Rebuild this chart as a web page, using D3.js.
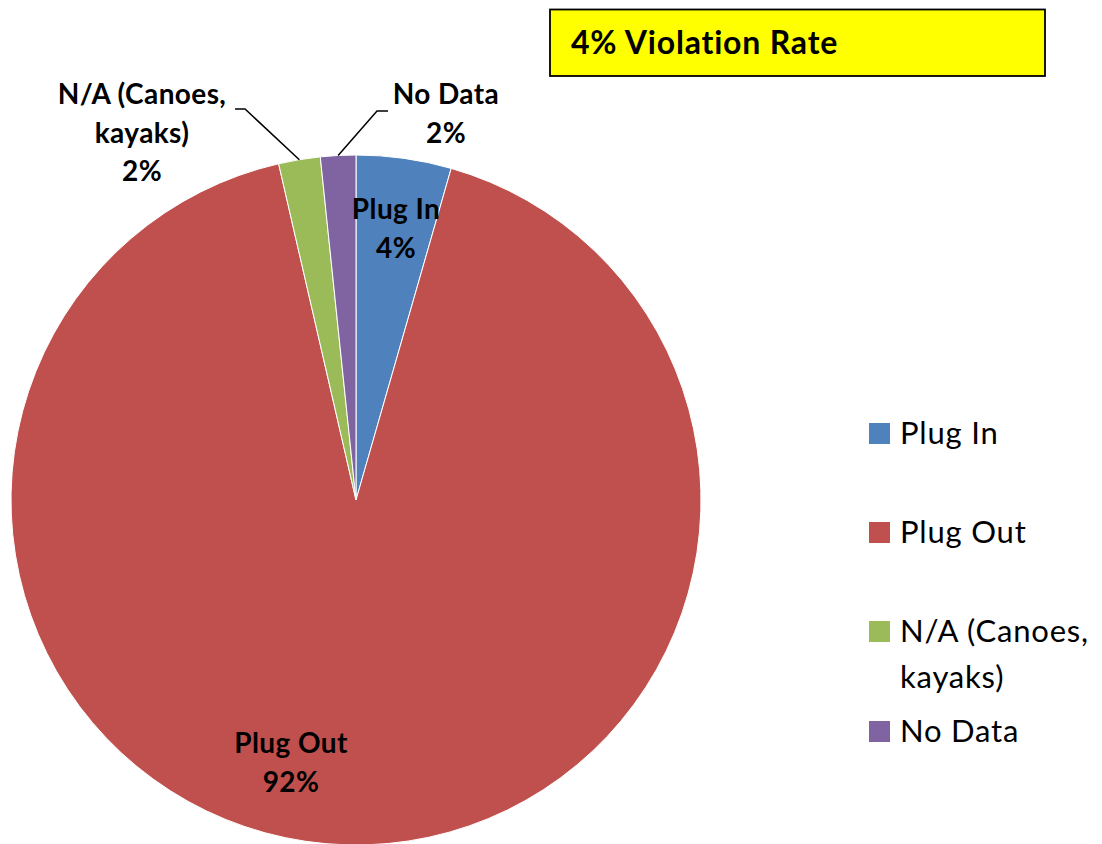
<!DOCTYPE html>
<html>
<head>
<meta charset="utf-8">
<script src="https://cdn.jsdelivr.net/npm/d3@7"></script>
<style>
  body { margin: 0; background: #fff; }
  svg { display: block; font-family: Lato, "Open Sans", sans-serif; }
</style>
</head>
<body>
<svg width="1102" height="844"></svg>
<script>
// slice data, clockwise from 12 o'clock
const categories = ["Plug In", "Plug Out", "N/A (Canoes, kayaks)", "No Data"];
const values = [4.45, 91.95, 1.95, 1.65];
const colors = ["#4F81BD", "#C0504D", "#9BBB59", "#8064A2"];
const legendLines = [["Plug In"], ["Plug Out"], ["N/A (Canoes,", "kayaks)"], ["No Data"]];
const labelLines = [["Plug In"], ["Plug Out"], ["N/A (Canoes,", "kayaks)"], ["No Data"]];
const title = "4% Violation Rate";

const svg = d3.select("svg");
const cx = 356, cy = 500, r = 345;

const total = d3.sum(values);
const pct = d3.format(".0%");

const pie = d3.pie().sort(null).value(d => d.v);
const arcs = pie(values.map((v, i) => ({ v: v, i: i })));
const arc = d3.arc().innerRadius(0).outerRadius(r);

const g = svg.append("g").attr("transform", `translate(${cx},${cy})`);

g.selectAll("path.slice")
  .data(arcs)
  .enter().append("path")
  .attr("class", "slice")
  .attr("d", arc)
  .attr("fill", d => colors[d.data.i])
  .attr("stroke", "#fff")
  .attr("stroke-width", 1);

// label placement (x, y of first baseline, relative to pie centre)
const labelPos = [
  { x: 40, y: -281 },
  { x: -65, y: 253 },
  { x: -214, y: -396 },
  { x: 90, y: -396 }
];
const lineH = 38.5;

arcs.forEach((d, k) => {
  const p = labelPos[k];
  const lines = labelLines[k].concat([pct(d.data.v / total)]);
  const t = g.append("text")
    .attr("text-anchor", "middle")
    .attr("font-weight", "bold")
    .attr("font-size", 28)
    .attr("letter-spacing", 0.4)
    .attr("fill", "#000");
  lines.forEach((s, j) => {
    t.append("tspan").attr("x", p.x).attr("y", p.y + j * lineH).text(s);
  });
});

// leader lines for the two small outside labels
const leaders = [
  { k: 2, x0: -121, y0: -391, x1: -111 },
  { k: 3, x0: 32, y0: -389, x1: 21 }
];
leaders.forEach(l => {
  const a = (arcs[l.k].startAngle + arcs[l.k].endAngle) / 2;
  const px = Math.sin(a) * r, py = -Math.cos(a) * r;
  g.append("polyline")
    .attr("points", [[l.x0, l.y0], [l.x1, l.y0], [px, py]].map(p => p.join(",")).join(" "))
    .attr("fill", "none")
    .attr("stroke", "#000")
    .attr("stroke-width", 1.5);
});

// legend
const legY = [444, 543, 642, 742];
const leg = svg.append("g");
legendLines.forEach((lines, i) => {
  leg.append("rect")
    .attr("x", 869).attr("y", legY[i] - 21)
    .attr("width", 21).attr("height", 21)
    .attr("fill", colors[i]);
  const t = leg.append("text").attr("font-size", 31).attr("letter-spacing", 0.8).attr("fill", "#000");
  lines.forEach((s, j) => {
    t.append("tspan").attr("x", 900).attr("y", legY[i] + j * 46).text(s);
  });
});

// title box
svg.append("rect")
  .attr("x", 550).attr("y", 9.5)
  .attr("width", 495).attr("height", 66.5)
  .attr("fill", "#FFFF00")
  .attr("stroke", "#000")
  .attr("stroke-width", 1.8);
svg.append("text")
  .attr("x", 571).attr("y", 54)
  .attr("font-weight", "bold")
  .attr("font-size", 32)
  .attr("letter-spacing", 0.8)
  .text(title);
</script>
</body>
</html>
